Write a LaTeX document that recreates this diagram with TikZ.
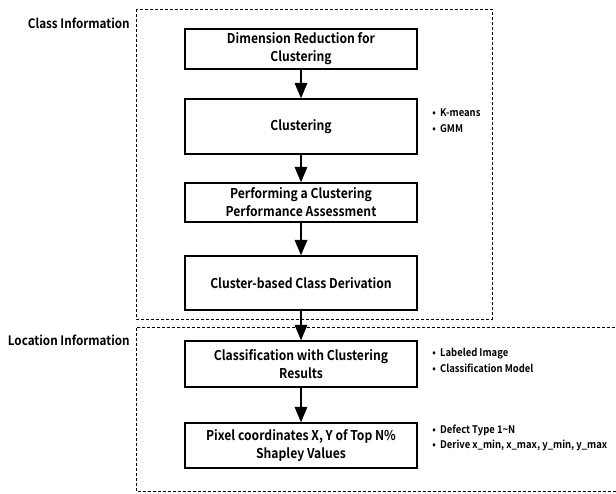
\documentclass[tikz,border=0pt]{standalone}
\usepackage{fontspec}
\setmainfont{Noto Sans CJK KR}[BoldFont={Noto Sans CJK KR Bold},FakeStretch=0.9]
\usepackage{tikz}
\usetikzlibrary{arrows,positioning}
\tikzstyle{stagebox}=[draw,line width=1.6pt,minimum width=232pt,align=center,inner sep=2pt,font=\bfseries\fontsize{13.5}{18}\selectfont]
\tikzstyle{note}=[anchor=west,align=left,inner sep=0pt,font=\bfseries\fontsize{10.5}{15.5}\selectfont]
\tikzstyle{grouplabel}=[anchor=east,inner sep=0pt,font=\bfseries\fontsize{13}{16}\selectfont]
\tikzstyle{groupbox}=[draw,line width=0.7pt,dash pattern=on 3pt off 2pt]
\begin{document}
\begin{tikzpicture}[x=1pt,y=-1pt,line width=2.6pt]
\useasboundingbox (0,0) rectangle (616,493);
\draw[groupbox] (136,9) rectangle (492,319);
\draw[groupbox] (640,327) -- (136,327) -- (136,491.5) -- (640,491.5);
\draw (131,23) node [grouplabel] (lclass) {Class Information};
\draw (131,340) node [grouplabel] (lloc) {Location Information};
\draw (301,49) node [stagebox,minimum height=40pt] (s1) {Dimension Reduction for\\Clustering};
\draw (301,126.5) node [stagebox,minimum height=55pt] (s2) {Clustering};
\draw (301,202.5) node [stagebox,minimum height=39pt] (s3) {Performing a Clustering\\Performance Assessment};
\draw (301,283) node [stagebox,minimum height=54pt] (s4) {Cluster-based Class Derivation};
\draw (301,364) node [stagebox,minimum height=46pt] (s5) {Classification with Clustering\\Results};
\draw (301,445.5) node [stagebox,minimum height=45pt] (s6) {Pixel coordinates X, Y of Top N\%\\Shapley Values};
\draw (431,120.5) node [note] (n2) {•\ \ K-means\\•\ \ GMM};
\draw (431,360.5) node [note] (n5) {•\ \ Labeled Image\\•\ \ Classification Model};
\draw (431,438) node [note] (n6) {•\ \ Defect Type 1\textasciitilde N\\•\ \ Derive x\_min, x\_max, y\_min, y\_max};
\draw[-triangle 45] (s1) -- (s2);
\draw[-triangle 45] (s2) -- (s3);
\draw[-triangle 45] (s3) -- (s4);
\draw[-triangle 45] (s4) -- (s5);
\draw[-triangle 45] (s5) -- (s6);
\end{tikzpicture}
\end{document}
